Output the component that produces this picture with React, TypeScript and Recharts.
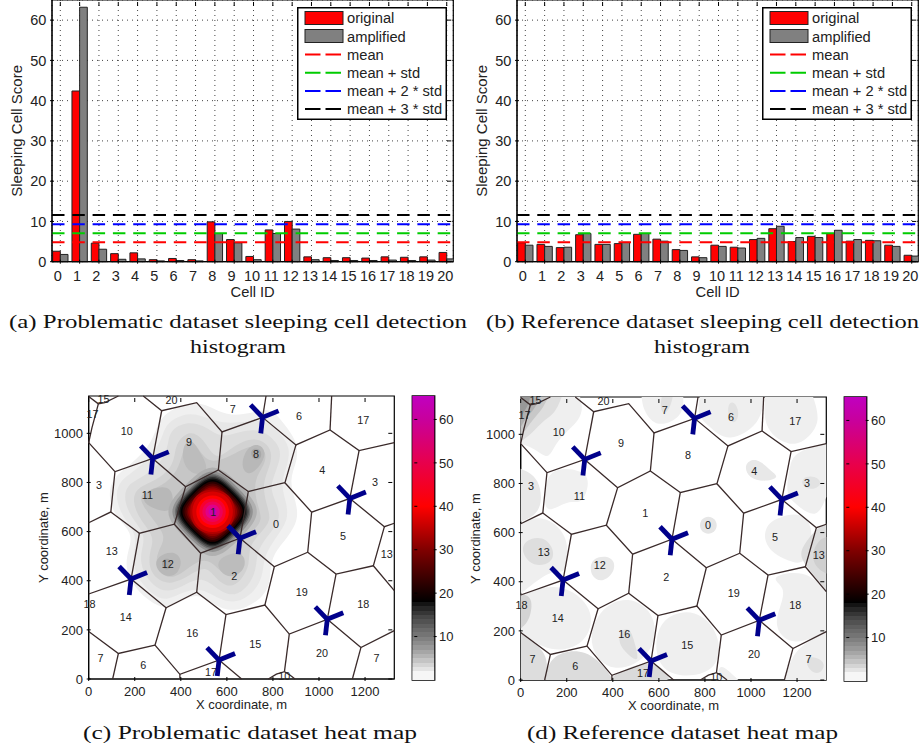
import React from "react";
import {
  Bar,
  BarChart,
  CartesianGrid,
  Curve,
  Legend,
  ReferenceArea,
  ReferenceLine,
  Scatter,
  ScatterChart,
  XAxis,
  YAxis,
} from "recharts";

type Pt = number[];
const pin = (x: number, y: number): Pt[] => [[x, y], [x, y], [x, y]];

const FONT = "'Liberation Sans', Arial, sans-serif";
const SERIF = "'Liberation Serif', serif";

// histograms
const cellIds = [0, 1, 2, 3, 4, 5, 6, 7, 8, 9, 10, 11, 12, 13, 14, 15, 16, 17, 18, 19, 20];
const scoreTicks = [0, 10, 20, 30, 40, 50, 60];
const problemOriginal = [2.6, 42.4, 4.6, 2.0, 2.2, 0.5, 0.8, 0.5, 9.9, 5.5, 1.3, 7.9, 10, 1.2, 1.0, 1.0, 0.9, 1.2, 1.1, 1.2, 2.3];
const problemAmplified = [1.8, 63.2, 3.1, 0.6, 0.7, 0.2, 0.3, 0.2, 7.0, 4.7, 0.5, 7.0, 8.1, 0.5, 0.3, 0.3, 0.3, 0.4, 0.3, 0.4, 0.7];
const referenceOriginal = [4.7, 4.3, 3.5, 6.7, 4.3, 4.5, 6.8, 5.6, 3.0, 1.2, 4.1, 3.6, 5.5, 8.2, 5.0, 6.3, 7.0, 5.1, 5.3, 4.1, 1.6];
const referenceAmplified = [4.1, 3.8, 3.6, 7.0, 4.3, 4.8, 7.0, 5.1, 2.8, 1.0, 3.8, 3.4, 5.8, 8.8, 6.0, 6.0, 7.8, 5.5, 5.2, 3.8, 1.4];
const thresholds = [
  { name: "mean", value: 4.8, color: "#ff0000" },
  { name: "mean + std", value: 7.05, color: "#00cc00" },
  { name: "mean + 2 * std", value: 9.3, color: "#0000ff" },
  { name: "mean + 3 * std", value: 11.6, color: "#000000" },
];

// heat maps, metres
const xTicks = [0, 200, 400, 600, 800, 1000, 1200];
const yTicks = [0, 200, 400, 600, 800, 1000];
const colorbarTicks = [10, 20, 30, 40, 50, 60];

const cellEdges: Pt[][] = [
  [[237, 1152], [317, 1092], [469, 1125], [579, 1006], [755, 1065], [900, 953], [1048, 1014], [1174, 930], [1327, 962]],
  [[770, 1152], [755, 1065]],
  [[1055, 1152], [1048, 1014]],
  [[1174, 930], [1134, 735], [968, 679], [852, 799], [900, 953]],
  [[1134, 735], [1284, 620], [1327, 634]],
  [[1284, 620], [1236, 461], [1327, 360]],
  [[1236, 461], [1074, 427], [951, 516], [968, 679]],
  [[1074, 427], [1036, 243], [871, 183], [765, 301], [596, 262], [469, 353], [336, 290], [184, 407], [0, 346]],
  [[1036, 243], [1182, 128], [1327, 197]],
  [[1182, 128], [1145, 0]],
  [[871, 183], [850, 30]],
  [[780, 0], [815, 20], [850, 30], [875, 15], [896, 0]],
  [[765, 301], [806, 457], [951, 516]],
  [[806, 457], [657, 573], [486, 512], [372, 630], [220, 593], [184, 407]],
  [[657, 573], [693, 763], [852, 799]],
  [[693, 763], [563, 851], [421, 783], [372, 630]],
  [[563, 851], [579, 1006]],
  [[421, 783], [278, 898], [114, 844], [96, 680], [0, 636]],
  [[96, 680], [220, 593]],
  [[278, 898], [317, 1092]],
  [[114, 844], [0, 962], [14, 1022], [42, 1120], [70, 1125], [129, 1152]],
  [[42, 1120], [0, 1150]],
  [[486, 512], [469, 353]],
  [[596, 262], [566, 77], [396, 19], [288, 138], [336, 290]],
  [[566, 77], [664, 0]],
  [[396, 19], [396, 0]],
  [[288, 138], [129, 104], [0, 193]],
  [[129, 104], [104, 0]],
];

const baseStations: Pt[] = [[755, 1065], [278, 898], [1134, 735], [657, 573], [184, 407], [1036, 243], [566, 77]];

const cellLabels: [string, number, number][] = [
  ["10", 165, 1010], ["7", 625, 1099], ["6", 913, 1071], ["17", 1192, 1054], ["20", 360, 1133], ["15", 64, 1138],
  ["17", 17, 1077], ["9", 436, 962], ["8", 726, 916], ["4", 1014, 851], ["3", 1243, 800], ["3", 45, 790],
  ["11", 255, 749], ["1", 541, 678], ["0", 813, 631], ["5", 1104, 582], ["13", 100, 521], ["12", 343, 468],
  ["13", 1294, 509], ["2", 632, 418], ["19", 925, 353], ["18", 3, 303], ["18", 1192, 303], ["14", 161, 252],
  ["16", 450, 186], ["15", 723, 141], ["20", 1013, 104], ["7", 51, 83], ["6", 237, 57], ["7", 1250, 83],
  ["17", 531, 29], ["10", 849, 12],
];

// contours of panel (c), outermost first
const problemLobes: { color: string; pts: Pt[] }[] = [
  { color: "#f0f0f0", pts: [[324, 1075], [396, 1115], [469, 1129], [541, 1102], [599, 1075], [671, 1075], [744, 1095], [802, 1095], [845, 1041], [903, 973], [910, 892], [867, 810], [903, 715], [910, 647], [867, 579], [802, 512], [787, 444], [787, 389], [758, 335], [686, 288], [599, 274], [527, 315], [469, 349], [396, 315], [331, 281], [252, 322], [187, 389], [158, 457], [172, 525], [194, 593], [114, 661], [85, 742], [100, 817], [179, 871], [266, 946], [295, 1027]] },
  { color: "#e7e7e7", pts: [[339, 1041], [411, 1082], [483, 1075], [556, 1048], [614, 1041], [686, 1048], [773, 1054], [831, 1000], [874, 946], [867, 878], [831, 797], [860, 715], [867, 647], [816, 579], [758, 498], [758, 417], [715, 349], [642, 308], [570, 322], [483, 376], [396, 349], [331, 315], [266, 349], [208, 417], [187, 484], [216, 586], [143, 661], [114, 749], [136, 810], [216, 858], [295, 932], [324, 1000]] },
  { color: "#dddddd", pts: [[353, 1014], [425, 1048], [498, 1034], [563, 987], [614, 993], [686, 1014], [758, 1014], [823, 959], [838, 905], [802, 824], [787, 769], [823, 702], [831, 647], [787, 593], [729, 525], [729, 444], [693, 376], [635, 335], [570, 356], [498, 417], [425, 389], [346, 349], [281, 376], [230, 444], [223, 512], [252, 586], [179, 661], [150, 742], [172, 797], [252, 830], [324, 892], [346, 959]] },
  { color: "#d2d2d2", pts: [[382, 966], [440, 1014], [498, 980], [548, 892], [599, 925], [671, 973], [744, 980], [794, 939], [794, 878], [751, 797], [773, 708], [794, 647], [751, 600], [693, 539], [700, 464], [664, 403], [614, 369], [556, 403], [512, 464], [440, 423], [360, 383], [295, 403], [259, 457], [266, 525], [288, 579], [216, 654], [187, 735], [216, 783], [295, 810], [360, 858], [375, 919]] },
  { color: "#c6c6c6", pts: [[411, 939], [440, 980], [476, 939], [519, 878], [599, 898], [671, 939], [729, 953], [773, 925], [765, 871], [715, 810], [729, 715], [758, 647], [715, 607], [657, 552], [671, 484], [642, 437], [585, 417], [534, 484], [469, 484], [382, 410], [324, 417], [288, 464], [302, 525], [339, 579], [281, 647], [216, 729], [237, 763], [317, 783], [389, 844]] },
  { color: "#b8b8b8", pts: [[686, 946], [744, 960], [773, 919], [744, 865], [693, 824], [658, 865]] },
  { color: "#b8b8b8", pts: [[295, 498], [368, 525], [411, 484], [382, 417], [324, 417], [288, 457]] },
  { color: "#b8b8b8", pts: [[237, 756], [295, 783], [368, 783], [368, 675], [295, 688], [237, 715]] },
  { color: "#bcbcbc", pts: [[570, 498], [671, 525], [686, 457], [642, 417], [592, 417], [556, 457]] },
  { color: "#bcbcbc", pts: [[404, 939], [440, 987], [483, 925], [527, 851], [469, 824], [411, 865]] },
  { color: "#a8a8a8", pts: [[700, 939], [751, 939], [751, 892], [708, 892]] },
  { color: "#a8a8a8", pts: [[317, 491], [360, 491], [360, 444], [317, 444]] },
];

const coreRingColors = ["#b0b0b0", "#909090", "#707070", "#505050", "#303030", "#101010", "#000000", "#2a0000", "#4c0000", "#6e0000", "#920000", "#b40000", "#d80000", "#ff0000", "#f60030", "#ec0058", "#e00088", "#c800b0"];
const coreRings: Pt[][] = [
  [[767, 681], [656, 792], [538, 896], [420, 792], [309, 681], [420, 570], [538, 466], [656, 570]],
  [[746, 681], [646, 782], [538, 876], [430, 782], [330, 681], [430, 580], [538, 486], [646, 580]],
  [[733, 681], [639, 776], [538, 864], [437, 776], [343, 681], [437, 586], [538, 498], [639, 586]],
  [[726, 681], [635, 772], [538, 857], [441, 772], [350, 681], [441, 590], [538, 505], [635, 590]],
  [[718, 681], [631, 768], [538, 849], [445, 768], [358, 681], [445, 594], [538, 513], [631, 594]],
  [[710, 681], [627, 764], [538, 842], [449, 764], [366, 681], [449, 598], [538, 520], [627, 598]],
  [[702, 681], [623, 760], [538, 835], [453, 760], [374, 681], [453, 602], [538, 527], [623, 602]],
  [[694, 681], [619, 757], [538, 827], [457, 757], [382, 681], [457, 605], [538, 535], [619, 605]],
  [[684, 681], [613, 752], [538, 818], [463, 752], [392, 681], [463, 610], [538, 544], [613, 610]],
  [[673, 681], [608, 747], [538, 808], [468, 747], [403, 681], [468, 615], [538, 554], [608, 615]],
  [[663, 681], [606, 745], [538, 798], [470, 745], [413, 681], [470, 617], [538, 564], [606, 617]],
  [[645, 681], [615, 753], [538, 781], [461, 753], [431, 681], [461, 609], [538, 581], [615, 609]],
  [[635, 681], [608, 747], [538, 772], [468, 747], [441, 681], [468, 615], [538, 590], [608, 615]],
  [[616, 681], [594, 733], [538, 754], [482, 733], [460, 681], [482, 629], [538, 608], [594, 629]],
  [[601, 681], [584, 724], [538, 740], [492, 724], [475, 681], [492, 638], [538, 622], [584, 638]],
  [[587, 681], [573, 714], [538, 727], [503, 714], [489, 681], [503, 648], [538, 635], [573, 648]],
  [[572, 681], [563, 704], [538, 713], [513, 704], [504, 681], [513, 658], [538, 649], [563, 658]],
  [[557, 681], [552, 694], [538, 699], [524, 694], [519, 681], [524, 668], [538, 663], [552, 668]],
];

// contours of panel (d)
const referencePatches: { color: string; pts: Pt[] }[] = [
  { color: "#efefef", pts: [...pin(0, 1152), ...pin(258, 1152), [272, 1098], [243, 1044], [171, 989], [135, 928], [113, 901], [62, 942], ...pin(0, 962)] },
  { color: "#dedede", pts: [...pin(0, 1152), ...pin(178, 1152), [149, 1084], [98, 1057], [55, 1010], ...pin(0, 969)] },
  { color: "#c8c8c8", pts: [...pin(0, 1152), ...pin(120, 1152), [91, 1098], [55, 1064], ...pin(0, 989)] },
  { color: "#b0b0b0", pts: [...pin(0, 1152), ...pin(84, 1152), [62, 1105], [26, 1071], ...pin(0, 1030)] },
  { color: "#989898", pts: [...pin(0, 1152), ...pin(41, 1152), [33, 1118], ...pin(0, 1071)] },
  { color: "#efefef", pts: [...pin(525, 1152), ...pin(706, 1152), [706, 1071], [590, 1023], [532, 1098]] },
  { color: "#e0e0e0", pts: [...pin(612, 1152), ...pin(660, 1152), [648, 1105], [619, 1077], [605, 1111]] },
  { color: "#efefef", pts: [...pin(778, 1152), ...pin(1053, 1152), [1046, 1044], [901, 962], [822, 1030], [764, 1077]] },
  { color: "#e2e2e2", pts: [[894, 1118], [923, 1139], [949, 1098], [941, 1050], [909, 1044]] },
  { color: "#efefef", pts: [...pin(1061, 1152), ...pin(1270, 1152), [1302, 1057], [1256, 989], [1176, 942], [1053, 1016]] },
  { color: "#efefef", pts: [[1184, 928], ...pin(1327, 962), ...pin(1327, 745), [1285, 650], [1191, 718], [1148, 759], [1169, 867]] },
  { color: "#e2e2e2", pts: [[1220, 826], [1278, 833], [1314, 799], [1270, 772], [1220, 786]] },
  { color: "#e8e8e8", pts: [[967, 881], [1024, 908], [1082, 854], [1126, 826], [1068, 806], [988, 820]] },
  { color: "#efefef", pts: [[1068, 636], [1126, 664], [1213, 684], [1278, 623], [1242, 460], [1155, 487], [1097, 514], [1053, 569]] },
  { color: "#dcdcdc", pts: [[1285, 616], ...pin(1327, 636), ...pin(1327, 365), [1242, 460], [1205, 514], [1249, 575]] },
  { color: "#cfcfcf", pts: [[1292, 569], ...pin(1327, 582), ...pin(1327, 433), [1278, 460], [1263, 514]] },
  { color: "#e6e6e6", pts: [[855, 630], [843, 657], [815, 668], [786, 657], [775, 630], [786, 603], [815, 592], [843, 603]] },
  { color: "#f0f0f0", pts: [[106, 847], [200, 867], [301, 840], [287, 759], [258, 718], [214, 731], [149, 698], [98, 684]] },
  { color: "#e8e8e8", pts: [...pin(0, 860), [84, 826], [98, 684], ...pin(0, 643)] },
  { color: "#efefef", pts: [...pin(0, 636), [91, 677], [214, 596], [200, 419], [142, 460], ...pin(0, 351)] },
  { color: "#dedede", pts: [[12, 569], [98, 589], [149, 528], [135, 474], [55, 460], [4, 514]] },
  { color: "#e8e8e8", pts: [[301, 501], [402, 507], [414, 446], [359, 395], [301, 419]] },
  { color: "#efefef", pts: [...pin(0, 345), [171, 406], [330, 290], [287, 141], [127, 107], ...pin(0, 195)] },
  { color: "#d4d4d4", pts: [...pin(0, 351), [55, 338], [41, 243], ...pin(0, 209)] },
  { color: "#efefef", pts: [[330, 284], [467, 351], [598, 263], [576, 94], [395, 19], [287, 134]] },
  { color: "#dedede", pts: [[431, 202], [475, 216], [496, 148], [518, 66], [460, 107], [424, 148]] },
  { color: "#dadada", pts: [[395, 19], [576, 94], [655, 5], ...pin(634, 0), ...pin(395, 0)] },
  { color: "#efefef", pts: [[598, 256], [764, 297], [873, 182], [858, 26], [655, 5], [576, 94]] },
  { color: "#dddddd", pts: [...pin(0, 195), [127, 107], ...pin(106, 0), ...pin(0, 0)] },
  { color: "#dcdcdc", pts: [[127, 107], [287, 134], [395, 19], ...pin(395, 0), ...pin(106, 0)] },
  { color: "#efefef", pts: [[1184, 128], ...pin(1327, 195), ...pin(1327, 0), ...pin(1147, 0)] },
  { color: "#e0e0e0", pts: [[1234, 94], [1285, 94], [1327, 66], [1299, 19], [1249, 39]] },
  { color: "#efefef", pts: [[1068, 419], [1234, 453], ...pin(1327, 365), ...pin(1327, 197), [1184, 134], [1097, 209], [1126, 297], [1155, 379]] },
  { color: "#efefef", pts: [[858, 80], ...pin(945, 0), ...pin(858, 0)] },
];

const problemContours = [
  ...problemLobes,
  ...coreRings.map((pts, i) => ({ color: coreRingColors[i], pts })),
];

// colormap, top to bottom
const colorbarMax = 65.4;
const smoothStops = [
  { v: 65.4, c: "#c000c0" },
  { v: 60, c: "#c8009c" },
  { v: 50, c: "#e8004c" },
  { v: 40, c: "#ff0000" },
  { v: 30, c: "#800000" },
  { v: 18, c: "#000000" },
];
const grayBands = ["#141414", "#262626", "#363636", "#464646", "#525252", "#5e5e5e", "#6a6a6a", "#747474", "#808080", "#8c8c8c", "#989898", "#a6a6a6", "#b4b4b4", "#c4c4c4", "#d4d4d4", "#e4e4e4", "#f6f6f6"];

const rows = (pts: Pt[]) => pts.map(([x, y]) => ({ x, y }));
const noDot = () => <g />;
const textStyle = { fontFamily: FONT, fill: "#222" };

const makeXTick = (plotH: number, size: number, dy: number) => (p: any) => {
  const v = p.payload.value;
  return (
    <g>
      <line x1={p.x} x2={p.x} y1={p.y} y2={p.y - 4} stroke="#000" />
      <line x1={p.x} x2={p.x} y1={p.y - plotH} y2={p.y - plotH + 4} stroke="#000" />
      <text x={v < 10 && size > 14 ? p.x - 2.6 : p.x - (size > 14 ? 1.5 : 0)} y={p.y + dy} textAnchor="middle" fontSize={size} style={textStyle}>
        {v}
      </text>
    </g>
  );
};

const makeYTick = (plotW: number, size: number) => (p: any) => (
  <g>
    <line x1={p.x} x2={p.x + 4} y1={p.y} y2={p.y} stroke="#000" />
    <line x1={p.x + plotW} x2={p.x + plotW - 4} y1={p.y} y2={p.y} stroke="#000" />
    <text x={p.x - 3.7} y={p.y + size * 0.36} textAnchor="end" fontSize={size} style={textStyle}>
      {p.payload.value}
    </text>
  </g>
);

function HistogramLegend() {
  return (
    <svg width={150} height={113} style={{ display: "block" }}>
      <rect x={0.75} y={0.75} width={148.5} height={111.5} fill="#fff" stroke="#000" strokeWidth={1.5} />
      <rect x={8} y={4.5} width={38} height={13} fill="#ff0000" stroke="#222" />
      <rect x={8} y={22.5} width={38} height={13} fill="#808080" stroke="#222" />
      {thresholds.map((t, i) => (
        <line key={t.name} x1={8} x2={46} y1={47.5 + i * 18.2} y2={47.5 + i * 18.2} stroke={t.color} strokeWidth={2} strokeDasharray="15.5 5" />
      ))}
      {["original", "amplified", ...thresholds.map((t) => t.name)].map((name, i) => (
        <text key={name} x={50} y={16.3 + i * 18.2} fontSize={14.7} style={textStyle}>
          {name}
        </text>
      ))}
    </svg>
  );
}

function Histogram({ left, original, amplified }: { left: number; original: number[]; amplified: number[] }) {
  const data = cellIds.map((id, i) => ({ id, original: original[i], amplified: amplified[i] }));
  const plotW = 401.3;
  const plotH = 261.7;
  return (
    <div style={{ position: "absolute", left, top: 0 }}>
      <BarChart width={460} height={300} data={data} barSize={7.67} barGap={0} margin={{ top: 0, right: 6.7, bottom: 0, left: 0 }}>
        <CartesianGrid stroke="#444" strokeDasharray="1 4" />
        <XAxis
          dataKey="id"
          type="number"
          domain={[-0.43, 20.34]}
          allowDataOverflow
          ticks={cellIds}
          interval={0}
          height={38.3}
          tickSize={0}
          tick={makeXTick(plotH, 14.5, 17)}
          stroke="#000"
          label={{ value: "Cell ID", position: "insideBottom", offset: 3, fontSize: 14.7, ...textStyle }}
        />
        <YAxis
          domain={[0, 65]}
          ticks={scoreTicks}
          width={52}
          tickSize={0}
          tick={makeYTick(plotW, 14.5)}
          stroke="#000"
          label={{ value: "Sleeping Cell Score", angle: -90, position: "insideLeft", offset: 17, fontSize: 15, ...textStyle, style: { textAnchor: "middle" } }}
        />
        <Bar dataKey="original" fill="#ff0000" stroke="#222" isAnimationActive={false} />
        <Bar dataKey="amplified" fill="#808080" stroke="#222" isAnimationActive={false} />
        {thresholds.map((t) => (
          <ReferenceLine key={t.name} y={t.value} stroke={t.color} strokeWidth={2} strokeDasharray="12.5 7.8" />
        ))}
        <ReferenceArea x1={-0.43} x2={20.34} y1={0} y2={65} fill="none" stroke="#000" strokeWidth={1.2} />
        <Legend
          layout="horizontal"
          verticalAlign="middle"
          align="center"
          content={<HistogramLegend />}
          wrapperStyle={{ left: 296.7, top: 6.7, width: 150, height: 113 }}
        />
      </BarChart>
    </div>
  );
}

const stationShape = (p: any) => (
  <g stroke="#00008b" strokeWidth={4.8}>
    <line x1={p.cx} y1={p.cy} x2={p.cx - 12} y2={p.cy - 12.5} />
    <line x1={p.cx} y1={p.cy} x2={p.cx + 16} y2={p.cy - 6.5} />
    <line x1={p.cx} y1={p.cy} x2={p.cx - 1.8} y2={p.cy + 16} />
  </g>
);

const labelShape = (p: any) => (
  <text x={p.cx} y={p.cy + 3.8} textAnchor="middle" fontSize={10.8} style={textStyle}>
    {p.payload.label}
  </text>
);

function HeatMap({ left, top, contours }: { left: number; top: number; contours: { color: string; pts: Pt[] }[] }) {
  const plotW = 305.6;
  const plotH = 283;
  return (
    <div style={{ position: "absolute", left, top }}>
      <ScatterChart width={380} height={330} margin={{ top: 6, right: 5.7, bottom: 0, left: 0 }}>
        <XAxis
          dataKey="x"
          type="number"
          domain={[0, 1327]}
          ticks={xTicks}
          height={41}
          tickSize={0}
          tick={makeXTick(plotH, 13, 14.5)}
          stroke="#000"
          label={{ value: "X coordinate, m", position: "insideBottom", offset: 11, fontSize: 13, ...textStyle }}
        />
        <YAxis
          dataKey="y"
          type="number"
          domain={[0, 1152]}
          ticks={yTicks}
          width={68.7}
          tickSize={0}
          tick={makeYTick(plotW, 13)}
          stroke="#000"
          label={{ value: "Y coordinate, m", angle: -90, position: "insideLeft", offset: 23, fontSize: 13, ...textStyle, style: { textAnchor: "middle" } }}
        />
        {contours.map((c, i) => (
          <Scatter
            key={"c" + i}
            data={rows(c.pts)}
            shape={noDot}
            line={(lp: any) => <Curve points={lp.points} type="basisClosed" fill={c.color} stroke="none" />}
            isAnimationActive={false}
          />
        ))}
        {cellEdges.map((edge, i) => (
          <Scatter
            key={"e" + i}
            data={rows(edge)}
            shape={noDot}
            line={{ stroke: "#3a2a2a", strokeWidth: 1.3 }}
            lineJointType="linear"
            isAnimationActive={false}
          />
        ))}
        <Scatter data={cellLabels.map(([label, x, y]) => ({ label, x, y }))} shape={labelShape} isAnimationActive={false} />
        <Scatter data={rows(baseStations)} shape={stationShape} isAnimationActive={false} />
        <ReferenceArea x1={0} x2={1327} y1={0} y2={1152} fill="none" stroke="#000" strokeWidth={1.2} />
      </ScatterChart>
    </div>
  );
}

const colorbarData = [{ name: "scale", value: colorbarMax }];

function Colorbar({ left, top, id }: { left: number; top: number; id: string }) {
  const offset = (v: number) => `${((colorbarMax - v) / colorbarMax) * 100}%`;
  return (
    <div style={{ position: "absolute", left, top }}>
      <BarChart width={60} height={300} data={colorbarData} barCategoryGap={0} margin={{ top: 6, right: 0, bottom: 10, left: 7.3 }}>
        <defs>
          <linearGradient id={id} x1="0" y1="0" x2="0" y2="1">
            {smoothStops.map((s) => (
              <stop key={s.v} offset={offset(s.v)} stopColor={s.c} />
            ))}
            {grayBands.map((c, i) => [
              <stop key={c + "a"} offset={offset(18 - i)} stopColor={c} />,
              <stop key={c + "b"} offset={offset(i === grayBands.length - 1 ? 0 : 17 - i)} stopColor={c} />,
            ])}
          </linearGradient>
        </defs>
        <XAxis dataKey="name" hide />
        <YAxis
          orientation="right"
          domain={[0, colorbarMax]}
          ticks={colorbarTicks}
          width={30.3}
          axisLine={false}
          tickSize={0}
          tick={(p: any) => (
            <g>
              <line x1={p.x} x2={p.x - 3} y1={p.y} y2={p.y} stroke="#000" />
              <line x1={p.x - 22.4} x2={p.x - 19.4} y1={p.y} y2={p.y} stroke="#000" />
              <text x={p.x + 2.4} y={p.y + 4.7} fontSize={13} style={textStyle}>
                {p.payload.value}
              </text>
            </g>
          )}
        />
        <Bar dataKey="value" fill={`url(#${id})`} isAnimationActive={false} />
        <ReferenceArea y1={0} y2={colorbarMax} fill="none" stroke="#000" strokeWidth={1.4} />
      </BarChart>
    </div>
  );
}

const captions = [
  { text: "(a) Problematic dataset sleeping cell detection", x: 9, y: 328, w: 458 },
  { text: "histogram", x: 190, y: 353, w: 96 },
  { text: "(b) Reference dataset sleeping cell detection", x: 486, y: 328, w: 433 },
  { text: "histogram", x: 654, y: 353, w: 96 },
  { text: "(c) Problematic dataset heat map", x: 83, y: 739, w: 334 },
  { text: "(d) Reference dataset heat map", x: 527, y: 739, w: 311 },
];

export default function App() {
  return (
    <div style={{ position: "absolute", left: 0, top: 0, width: 922, height: 751, background: "#fff", overflow: "hidden" }}>
      <Histogram left={0} original={problemOriginal} amplified={problemAmplified} />
      <Histogram left={465.3} original={referenceOriginal} amplified={referenceAmplified} />
      <HeatMap left={20} top={390} contours={problemContours} />
      <HeatMap left={452} top={390.5} contours={referencePatches} />
      <Colorbar left={405} top={390} id="cmapC" />
      <Colorbar left={837} top={390.5} id="cmapD" />
      <svg width={922} height={751} style={{ position: "absolute", left: 0, top: 0, pointerEvents: "none" }}>
        {captions.map((c) => (
          <text key={c.text + c.x} x={c.x} y={c.y} textLength={c.w} lengthAdjust="spacingAndGlyphs" fontSize={18.5} fontFamily={SERIF} fill="#111">
            {c.text}
          </text>
        ))}
      </svg>
    </div>
  );
}
